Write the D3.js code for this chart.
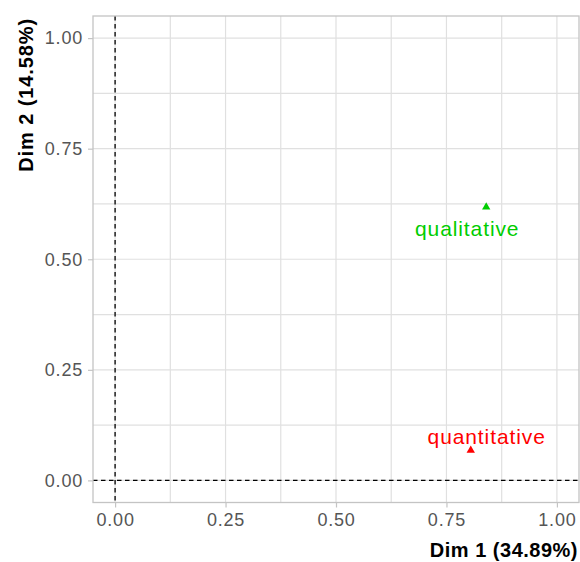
<!DOCTYPE html>
<html><head><meta charset="utf-8">
<script src="https://cdn.jsdelivr.net/npm/d3@7"></script>
<style>body{margin:0;background:#fff}svg{display:block}</style>
</head><body>
<svg id="c" width="580" height="562"></svg>
<script>
const groups = ["qualitative", "quantitative"];
const dim1 = [0.840, 0.805];
const dim2 = [0.618, 0.068];
const labelDim1 = [0.797, 0.841];
const labelDim2 = [0.570, 0.099];
const colors = ["#00CD00", "#FF0000"];
const majorTicks = [0, 0.25, 0.5, 0.75, 1];
const minorTicks = [0.125, 0.375, 0.625, 0.875];
const xTitle = "Dim 1 (34.89%)";
const yTitle = "Dim 2 (14.58%)";

const svg = d3.select("#c");
const L = 93, R = 579, T = 16, B = 502.5;
const x = d3.scaleLinear().domain([-0.05, 1.05]).range([L, R]);
const y = d3.scaleLinear().domain([-0.05, 1.05]).range([B, T]);
const font = "'Liberation Sans', Arial, sans-serif";

// grid (minor + major)
const allTicks = minorTicks.concat(majorTicks);
svg.append("g").selectAll("line").data(allTicks).join("line")
  .attr("x1", d => x(d)).attr("x2", d => x(d)).attr("y1", T).attr("y2", B)
  .attr("stroke", "#e0e0e0").attr("stroke-width", 1.2);
svg.append("g").selectAll("line").data(allTicks).join("line")
  .attr("y1", d => y(d)).attr("y2", d => y(d)).attr("x1", L).attr("x2", R)
  .attr("stroke", "#e0e0e0").attr("stroke-width", 1.2);

// reference dashed lines
svg.append("line").attr("x1", x(0)).attr("x2", x(0)).attr("y1", T).attr("y2", B)
  .attr("stroke", "#000").attr("stroke-width", 1.3).attr("stroke-dasharray", "4.5,3.5");
svg.append("line").attr("y1", y(0)).attr("y2", y(0)).attr("x1", L).attr("x2", R)
  .attr("stroke", "#000").attr("stroke-width", 1.3).attr("stroke-dasharray", "4.5,3.5");

// border
svg.append("rect").attr("x", L).attr("y", T).attr("width", R - L).attr("height", B - T)
  .attr("fill", "none").attr("stroke", "#c4c4c4").attr("stroke-width", 1.3);

// axes
const fmt = d3.format(".2f");
const xAxis = svg.append("g").attr("transform", `translate(0,${B})`)
  .call(d3.axisBottom(x).tickValues(majorTicks).tickFormat(fmt).tickSize(5).tickPadding(6));
const yAxis = svg.append("g").attr("transform", `translate(${L},0)`)
  .call(d3.axisLeft(y).tickValues(majorTicks).tickFormat(fmt).tickSize(5).tickPadding(5));
[xAxis, yAxis].forEach(a => {
  a.select(".domain").remove();
  a.selectAll(".tick line").attr("stroke", "#c4c4c4").attr("stroke-width", 1.2);
  a.selectAll(".tick text").attr("fill", "#555").style("font-family", font)
    .style("font-size", "18px").style("letter-spacing", "0.8px");
});

// points
const tri = d3.symbol().type(d3.symbolTriangle).size(30);
svg.append("g").selectAll("path").data(groups).join("path")
  .attr("d", tri)
  .attr("transform", (d, i) => `translate(${x(dim1[i])},${y(dim2[i])})`)
  .attr("fill", (d, i) => colors[i]);
svg.append("g").selectAll("text").data(groups).join("text")
  .attr("x", (d, i) => x(labelDim1[i])).attr("y", (d, i) => y(labelDim2[i]))
  .attr("text-anchor", "middle").attr("dominant-baseline", "central")
  .attr("fill", (d, i) => colors[i])
  .style("font-family", font).style("font-size", "21px").style("letter-spacing", "0.9px")
  .text(d => d);

// titles
svg.append("text").attr("x", R - 1).attr("y", 557).attr("text-anchor", "end")
  .style("font-family", font).style("font-size", "20px").style("font-weight", "bold")
  .style("letter-spacing", "0.5px").text(xTitle);
svg.append("text").attr("transform", `translate(33,${T + 2}) rotate(-90)`).attr("text-anchor", "end")
  .style("font-family", font).style("font-size", "20px").style("font-weight", "bold")
  .style("letter-spacing", "0.9px").text(yTitle);
</script>
</body></html>
